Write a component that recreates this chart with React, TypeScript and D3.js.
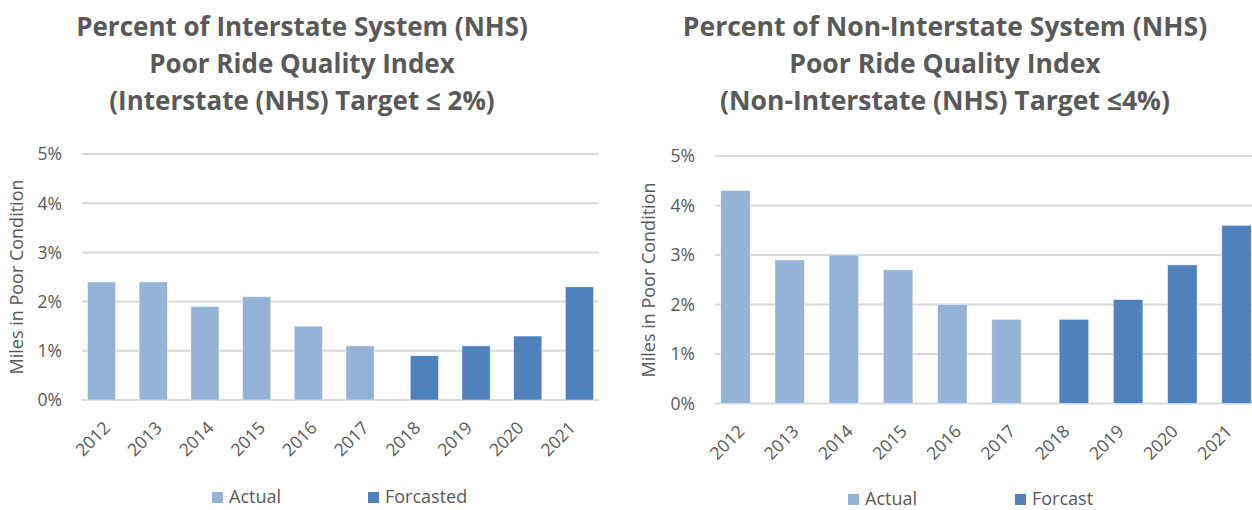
import React from 'react';
import * as d3 from 'd3';

const years = ['2012', '2013', '2014', '2015', '2016', '2017', '2018', '2019', '2020', '2021'];
const interstateActual: (number | null)[] = [2.4, 2.4, 1.9, 2.1, 1.5, 1.1, null, null, null, null];
const interstateForecast: (number | null)[] = [null, null, null, null, null, null, 0.9, 1.1, 1.3, 2.3];
const nonInterstateActual: (number | null)[] = [4.3, 2.9, 3.0, 2.7, 2.0, 1.7, null, null, null, null];
const nonInterstateForecast: (number | null)[] = [null, null, null, null, null, null, 1.7, 2.1, 2.8, 3.6];
const yTicks = [0, 1, 2, 3, 4, 5];
const leftTitle = ['Percent of Interstate System (NHS)', 'Poor Ride Quality Index', '(Interstate (NHS) Target \u2264 2%)'];
const rightTitle = ['Percent of Non-Interstate System (NHS)', 'Poor Ride Quality Index', '(Non-Interstate (NHS) Target \u22644%)'];
const yAxisTitle = 'Miles in Poor Condition';
const leftLegend = ['Actual', 'Forcasted'];
const rightLegend = ['Actual', 'Forcast'];

const ACTUAL = '#95B3D7';
const FORECAST = '#4F81BD';
const TEXT = '#595959';
const GRID = '#D9D9D9';
const FONT = '"Open Sans", sans-serif';

type ChartProps = {
  actual: (number | null)[];
  forecast: (number | null)[];
  title: string[];
  legend: string[];
  titleX: number;
  titleY: number[];
  titleSize: number;
  plotLeft: number;
  plotRight: number;
  yTop: number;
  yBottom: number;
  axisTitleX: number;
  axisTitleY: number;
  legendY: number;
  legendX: number[];
};

function Chart(p: ChartProps) {
  const x = d3.scaleBand<string>().domain(years).range([p.plotLeft, p.plotRight]).padding(0);
  const y = d3.scaleLinear().domain([0, 5]).range([p.yBottom, p.yTop]);
  const bw = x.bandwidth();
  const barW = bw * 0.545;
  const off = bw * 0.122;
  const series = [
    { vals: p.actual, color: ACTUAL, shift: -off },
    { vals: p.forecast, color: FORECAST, shift: off },
  ];
  return (
    <g>
      {p.title.map((t, i) => (
        <text key={i} x={p.titleX} y={p.titleY[i]} textAnchor="middle" fontFamily={FONT} fontWeight={700} fontSize={p.titleSize} fill={TEXT}>
          {t}
        </text>
      ))}
      {yTicks.map((t) => (
        <g key={t}>
          <line x1={p.plotLeft} x2={p.plotRight} y1={y(t)} y2={y(t)} stroke={GRID} strokeWidth={2} />
          <text x={p.plotLeft - 20} y={y(t)} dy="0.36em" textAnchor="end" fontFamily={FONT} fontSize={17.5} fill={TEXT}>
            {t}%
          </text>
        </g>
      ))}
      {series.map((s, si) =>
        s.vals.map((v, i) =>
          v == null ? null : (
            <rect
              key={`${si}-${i}`}
              x={(x(years[i]) as number) + bw / 2 + s.shift - barW / 2}
              y={y(v)}
              width={barW}
              height={y(0) - y(v)}
              fill={s.color}
              stroke="#ffffff"
              strokeOpacity={0.6}
              strokeWidth={0.8}
            />
          )
        )
      )}
      {years.map((yr) => {
        const cx = (x(yr) as number) + bw / 2 + 3.5;
        const cy = p.yBottom + 29;
        return (
          <text key={yr} transform={`translate(${cx},${cy}) rotate(-45)`} textAnchor="end" fontFamily={FONT} fontSize={17.5} fill={TEXT}>
            {yr}
          </text>
        );
      })}
      <text
        transform={`translate(${p.axisTitleX},${p.axisTitleY}) rotate(-90)`}
        textAnchor="middle"
        dy="0.36em"
        fontFamily={FONT}
        fontSize={18}
        fill={TEXT}
      >
        {yAxisTitle}
      </text>
      {p.legend.map((l, i) => (
        <g key={l}>
          <rect x={p.legendX[i]} y={p.legendY - 11} width={11} height={11} fill={i === 0 ? ACTUAL : FORECAST} />
          <text x={p.legendX[i] + 17} y={p.legendY} fontFamily={FONT} fontSize={18} fill={TEXT}>
            {l}
          </text>
        </g>
      ))}
    </g>
  );
}

export default function App() {
  return (
    <svg width={1252} height={510} style={{ position: 'absolute', left: 0, top: 0, background: '#fff' }}>
      <rect x={0} y={0} width={1252} height={510} fill="#fff" />
      <Chart
        actual={interstateActual}
        forecast={interstateForecast}
        title={leftTitle}
        legend={leftLegend}
        titleX={302}
        titleY={[36, 73, 110]}
        titleSize={26}
        plotLeft={82}
        plotRight={599}
        yTop={154}
        yBottom={400}
        axisTitleX={16.5}
        axisTitleY={277}
        legendY={503}
        legendX={[212, 368]}
      />
      <Chart
        actual={nonInterstateActual}
        forecast={nonInterstateForecast}
        title={rightTitle}
        legend={rightLegend}
        titleX={945}
        titleY={[36, 73, 110]}
        titleSize={26.5}
        plotLeft={715}
        plotRight={1257}
        yTop={156}
        yBottom={403.5}
        axisTitleX={649}
        axisTitleY={280}
        legendY={505}
        legendX={[848, 1015]}
      />
    </svg>
  );
}
